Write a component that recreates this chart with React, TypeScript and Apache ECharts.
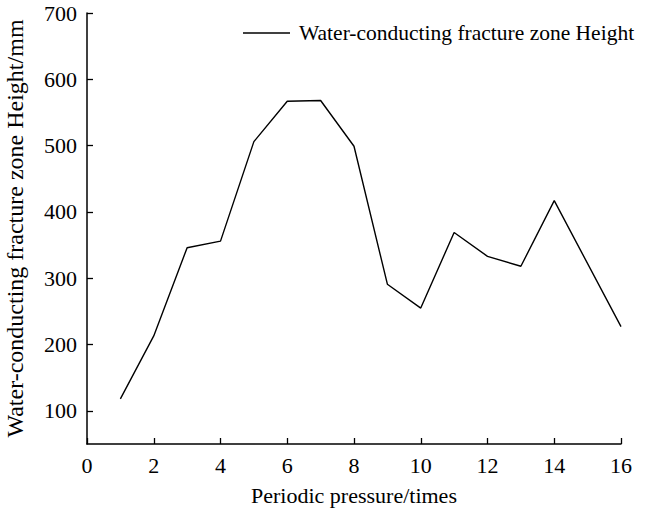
import React, { useEffect, useRef } from "react";
import * as echarts from "echarts";

const xValues = [1, 2, 3, 4, 5, 6, 7, 8, 9, 10, 11, 12, 13, 14, 16];
const heights = [118, 213, 346, 356, 506, 567, 568, 499, 291, 255, 369, 333, 318, 417, 227];
const yTicks = [100, 200, 300, 400, 500, 600, 700];
const seriesName = "Water-conducting fracture zone Height";

export default function App() {
  const ref = useRef<HTMLDivElement>(null);
  useEffect(() => {
    if (!ref.current) return;
    const chart = echarts.init(ref.current, null, { renderer: "svg" });
    const font = "Liberation Serif";
    chart.setOption({
      animation: false,
      textStyle: { fontFamily: font },
      grid: { left: 87, right: 25, top: 13, bottom: 69, outerBoundsMode: "none", containLabel: false },
      legend: {
        show: true,
        left: 243,
        top: 22,
        padding: 0,
        itemWidth: 47,
        itemHeight: 14,
        itemGap: 0,
        textStyle: { fontFamily: font, fontSize: 21.5, color: "#000", padding: [0, 0, 0, 4] },
        data: [{ name: seriesName, icon: "path://M0,0 L47,0 L47,1.4 L0,1.4 Z" }],
      },
      xAxis: {
        type: "value",
        min: 0,
        max: 16,
        interval: 2,
        name: "Periodic pressure/times",
        nameLocation: "middle",
        nameGap: 40,
        nameTextStyle: { fontFamily: font, fontSize: 22, color: "#000" },
        axisLine: { lineStyle: { color: "#000", width: 1.5 } },
        axisTick: { inside: true, length: 6, lineStyle: { color: "#000", width: 1.3 } },
        axisLabel: { fontFamily: font, fontSize: 22, color: "#000", margin: 10 },
        splitLine: { show: false },
      },
      yAxis: {
        type: "value",
        min: 50,
        max: 700,
        name: "Water-conducting fracture zone Height/mm",
        nameLocation: "middle",
        nameGap: 60,
        nameTextStyle: { fontFamily: font, fontSize: 24, color: "#000" },
        axisLine: { show: true, lineStyle: { color: "#000", width: 1.5 } },
        axisTick: { show: true, inside: true, length: 6, customValues: yTicks, lineStyle: { color: "#000", width: 1.3 } },
        axisLabel: { fontFamily: font, fontSize: 22, color: "#000", margin: 10, customValues: yTicks },
        splitLine: { show: false },
      },
      series: [
        {
          name: seriesName,
          type: "line",
          data: xValues.map((x, i) => [x, heights[i]]),
          symbol: "none",
          lineStyle: { color: "#000", width: 1.4 },
          itemStyle: { color: "#000" },
        },
      ],
    });
    return () => chart.dispose();
  }, []);
  return <div ref={ref} style={{ width: 646, height: 513, position: "absolute", left: 0, top: 0 }} />;
}
